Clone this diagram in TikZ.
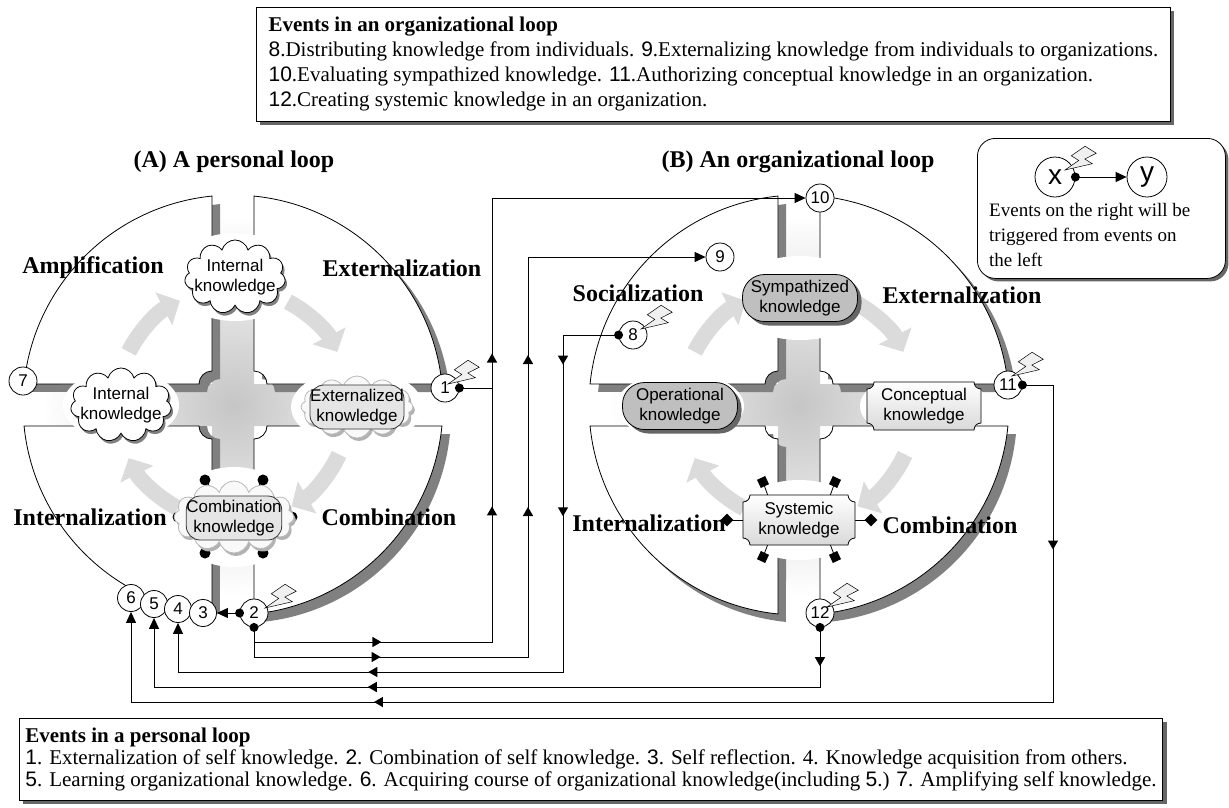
\documentclass[tikz,border=0pt]{standalone}
\usepackage{fontspec}
\setmainfont{Liberation Serif}
\newfontfamily\arial{Liberation Sans}
\usetikzlibrary{arrows.meta,calc,shapes.symbols,shapes.misc,shapes.geometric,shadows}

\newcommand{\dg}[1]{{\arial #1}}
% plaque with concave corners: centre, half width, half height
\newcommand{\plaque}[3]{%
  \draw[plaquefill] ($(#1)+(-#2+7,-#3)$) -- ($(#1)+(#2-7,-#3)$)
    arc[start angle=180, end angle=90, radius=7] -- ($(#1)+(#2,#3-7)$)
    arc[start angle=270, end angle=180, radius=7] -- ($(#1)+(-#2+7,#3)$)
    arc[start angle=0, end angle=-90, radius=7] -- ($(#1)+(-#2,-#3+7)$)
    arc[start angle=90, end angle=0, radius=7] -- cycle;}

\tikzset{
  quadrant/.pic={
    \path[pic actions] (-21,-34) -- (-21,-208.95)
      arc[start angle=264.26, end angle=185.74, radius=210]
      -- (-34,-21) arc[start angle=180, end angle=270, radius=13] -- cycle;
  },
  bolt/.pic={
    \filldraw[fill=gray!12, draw=black, line width=0.5pt, rotate=-32, scale=2.2]
      (0,0) -- (3,-7) -- (-1,-7) -- (2,-14) -- (8,-14) -- (5,-9) -- (9,-9) -- cycle;
  },
  arcline/.style={draw=black, line width=0.8pt, fill=white},
  plaquefill/.style={draw=black, line width=0.8pt, top color=white, bottom color=gray!30},
  ev/.style={circle, draw, fill=white, line width=0.8pt, minimum size=28pt, inner sep=0pt,
    font=\arial\fontsize{17}{17}\selectfont},
  evs/.style={ev, minimum size=27pt},
  dot/.style={circle, fill=black, inner sep=0pt, minimum size=9pt},
  wire/.style={line width=1pt},
  arr/.style={wire, -{Triangle[length=11pt, width=10pt]}},
  mtip/.style={isosceles triangle, isosceles triangle apex angle=60, fill=black,
    inner sep=0pt, minimum size=9pt, sloped, allow upside down},
  phase/.style={font=\bfseries\fontsize{24}{26}\selectfont},
  ktext/.style={align=center, font=\arial\fontsize{17}{20}\selectfont},
  kcloud/.style={ktext, cloud, cloud puffs=11, cloud ignores aspect, draw, fill=white,
    line width=0.8pt, inner xsep=-8pt, inner ysep=2pt,
    drop shadow={shadow xshift=2pt, shadow yshift=-3pt, fill=gray, opacity=1}},
  gcloud/.style={cloud, cloud puffs=12, cloud ignores aspect, draw=gray!55, fill=gray!5,
    line width=0.8pt, minimum width=112pt, minimum height=62pt,
    drop shadow={shadow xshift=2pt, shadow yshift=-3pt, fill=gray!60, opacity=1}},
  kpill/.style={ktext, rectangle, rounded corners=14pt, draw=black!80, fill=gray!20,
    line width=0.8pt, minimum width=94pt, minimum height=44pt, inner sep=0pt},
  spill/.style={ktext, rectangle, rounded corners=22pt, draw, fill=gray!50,
    line width=0.8pt, minimum width=115pt, minimum height=47pt, inner sep=0pt,
    drop shadow={shadow xshift=4pt, shadow yshift=-4pt, fill=gray!80!black, opacity=1}},
  turn/.style={line width=16pt, draw=gray!28, -{Triangle[length=18pt, width=36pt]}},
  infobox/.style={draw, fill=white, line width=0.8pt, align=left, inner sep=6pt,
    drop shadow={shadow xshift=4pt, shadow yshift=-4pt, fill=gray!80!black, opacity=1}},
  legendbox/.style={draw, fill=white, line width=0.8pt, rounded corners=18pt,
    drop shadow={shadow xshift=3pt, shadow yshift=-3pt, fill=gray!80!black, opacity=1}},
}

\begin{document}
\begin{tikzpicture}[x=1pt, y=-1pt]
\useasboundingbox (0,0) rectangle (1229,807);

% the two loops
\coordinate (cA) at (233,405);
\coordinate (cB) at (799,405);

\foreach \c in {cA,cB} {
  \begin{scope}
    \clip (\c) ++(-21,-210) rectangle ++(42,420) (\c) ++(-210,-21) rectangle ++(420,42);
    \shade[inner color=gray!45, outer color=white] (\c) circle (190);
  \end{scope}
}
\foreach \r/\sx/\sy in {0/8/8, 90/8/0, 180/8/8, 270/8/8}
  \pic[fill=gray, shift={(\sx,\sy)}, rotate=\r] at (cA) {quadrant};
\foreach \r in {0,90,180,270}
  \pic[fill=gray, shift={(8,8)}, rotate=\r] at (cB) {quadrant};
\foreach \c in {cA,cB}
  \foreach \r in {0,90,180,270}
    \pic[arcline, rotate=\r] at (\c) {quadrant};

% halo round the knowledge
\fill[white] (235,277) ellipse [x radius=64, y radius=44];
\fill[white] (121,405) ellipse [x radius=58, y radius=36];
\fill[white] (357,407) ellipse [x radius=66, y radius=38];
\fill[white] (234,517) ellipse [x radius=64, y radius=50];
\fill[white] (800,298) ellipse [x radius=70, y radius=42];
\fill[white] (680,406) ellipse [x radius=64, y radius=34];
\fill[white] (924,406) ellipse [x radius=64, y radius=34];
\fill[white] (799,520) ellipse [x radius=64, y radius=40];

% turning arrows
\foreach \c in {cA,cB}
  \foreach \s/\e in {207/243, 298/333, 25/60, 118/153}
    \draw[turn] ([shift={(\c)}]\s:117) arc[start angle=\s, end angle=\e, radius=117];

% titles and phases
\node[phase] (ttlA) at (234,162) {(A) A personal loop};
\node[phase] (ttlB) at (798,162) {(B) An organizational loop};
\node[phase] (ampA) at (93,268) {Amplification};
\node[phase] (extA) at (402,268) {Externalization};
\node[phase] (intA) at (90,517) {Internalization};
\node[phase] (comA) at (389,517) {Combination};
\node[phase] (socB) at (638,293) {Socialization};
\node[phase] (extB) at (962,295) {Externalization};
\node[phase] (intB) at (649,523) {Internalization};
\node[phase] (comB) at (950,525) {Combination};

% knowledge of loop A
\coordinate (cmkC) at (234,517);
\foreach \a/\b/\c/\d in {-29/-37/-18/-22, 29/-37/18/-22, -56/0/-40/0, 58/0/40/0, -29/36/-18/22, 29/36/18/22}
  \draw[line width=0.8pt] ($(cmkC)+(\c,\d)$) -- ($(cmkC)+(\a,\b)$) node[dot, minimum size=11pt] {};
\node[kcloud] (ikTop) at (235,277) {Internal\\knowledge};
\node[kcloud] (ikLeft) at (121,405) {Internal\\knowledge};
\node[gcloud] (exCloud) at (357,407) {};
\node[kpill] (exk) at (357,407) {Externalized\\knowledge};
\node[gcloud, minimum width=120pt, minimum height=72pt] (cmCloud) at (cmkC) {};
\node[kpill] (cmk) at (234,518) {Combination\\knowledge};

% knowledge of loop B
\coordinate (cpkC) at (924,406);
\coordinate (sykC) at (799,520);
\foreach \a/\b/\c/\d/\t in {-36/-38/-31/-24/25, 36/-38/31/-24/-25, -36/37/-31/24/-25, 36/37/31/24/25}
  \draw[line width=0.8pt] ($(sykC)+(\c,\d)$) -- ($(sykC)+(\a,\b)$)
    node[rectangle, fill=black, inner sep=0pt, minimum size=9pt, rotate=\t] {};
\foreach \a/\c in {-72/-55, 72/55}
  \draw[line width=0.8pt] ($(sykC)+(\c,0)$) -- ($(sykC)+(\a,0)$)
    node[diamond, fill=black, inner sep=0pt, minimum size=13pt] {};
\node[spill] (sym) at (800,298) {Sympathized\\knowledge};
\node[spill] (opk) at (680,406) {Operational\\knowledge};
\plaque{cpkC}{57}{24}
\node[ktext] (cpk) at (cpkC) {Conceptual\\knowledge};
\plaque{sykC}{56}{25}
\node[ktext] (syk) at (sykC) {Systemic\\knowledge};

% events
\node[ev] (e7) at (23,381) {7};
\node[ev] (e1) at (445,388) {1};
\node[evs] (e6) at (131,598) {6};
\node[evs] (e5) at (154,604) {5};
\node[evs] (e4) at (178,609) {4};
\node[evs] (e3) at (203,613) {3};
\node[ev] (e2) at (254,613) {2};
\node[ev] (e8) at (633,335) {8};
\node[ev] (e9) at (720,257) {9};
\node[ev] (e10) at (820,198) {10};
\node[ev] (e11) at (1008,385) {11};
\node[ev] (e12) at (820,613) {12};

% triggers
\coordinate (la) at (492,0);
\coordinate (lb) at (528,0);
\coordinate (lc) at (563,0);
\coordinate (ld) at (1053,0);
\coordinate (ra) at (0,642);
\coordinate (rb) at (0,657);
\coordinate (rc) at (0,672);
\coordinate (rd) at (0,687);
\coordinate (re) at (0,702);

\draw[arr] (e1.east) -- (e1.east -| la) -- node[mtip, pos=.15] {} (la |- e10) -- (e10.west);
\draw[wire] (e2.south) -- (e2.south |- ra) -- node[mtip, pos=.51] {} (la |- ra)
  -- node[mtip, pos=.51] {} (e1.east -| la);
\draw[arr] (e2.south) -- (e2.south |- rb) -- node[mtip, pos=.44] {} (lb |- rb)
  -- node[mtip, pos=.36] {} node[mtip, pos=.74] {} (lb |- e9) -- (e9.west);
\draw[arr] (e8.west) -- (e8.west -| lc) -- node[mtip, pos=.07] {} node[mtip, pos=.52] {} (lc |- rc)
  -- node[mtip, pos=.49] {} (e4 |- rc) -- (e4.south);
\draw[arr] (e12.south) -- node[mtip, pos=.55] {} (e12.south |- rd)
  -- node[mtip, pos=.67] {} (e5 |- rd) -- (e5.south);
\draw[arr] (e11.east) -- (e11.east -| ld) -- node[mtip, pos=.5] {} (ld |- re)
  -- node[mtip, pos=.73] {} (e6 |- re) -- (e6.south);
\draw[arr] (e2.west) -- (e3.east);
\foreach \d in {e1.east, e2.west, e2.south, e8.west, e11.east, e12.south}
  \node[dot] at (\d) {};

\pic at ([shift={(3,-4)}]e1.center) {bolt};
\pic at ([shift={(11,-5)}]e2.center) {bolt};
\pic at ([shift={(8,-6)}]e8.center) {bolt};
\pic at ([shift={(4,-9)}]e11.center) {bolt};
\pic at ([shift={(7,-6)}]e12.center) {bolt};

% legend
\node[legendbox, minimum width=248pt, minimum height=140pt, anchor=north west] (legend) at (977,138) {};
\node[ev, minimum size=40pt, font=\arial\fontsize{28}{28}\selectfont] (lx) at (1055,177) {x};
\node[ev, minimum size=40pt, font=\arial\fontsize{28}{28}\selectfont] (ly) at (1147,177) {y};
\draw[arr] (lx.east) -- (ly.west);
\node[dot] at (lx.east) {};
\pic at ([shift={(10,-7)}]lx.center) {bolt};
\node[anchor=north west, align=left, inner sep=0pt, font=\fontsize{19}{25}\selectfont] (legtxt) at (989,203)
  {Events on the right will be\\triggered from events on\\the left};

% event lists
\node[infobox, minimum width=914pt, minimum height=114pt, anchor=north west,
      font=\fontsize{21}{25}\selectfont] (orgbox) at (256,7) {%
  \textbf{Events in an organizational loop}\\
  \dg{8}.Distributing knowledge from individuals. \dg{9}.Externalizing knowledge from individuals to organizations.\\
  \dg{10}.Evaluating sympathized knowledge. \dg{11}.Authorizing conceptual knowledge in an organization.\\
  \dg{12}.Creating systemic knowledge in an organization.};
\node[infobox, minimum width=1141pt, minimum height=82pt, anchor=north west,
      font=\fontsize{21}{22}\selectfont] (perbox) at (19,718) {%
  \textbf{Events in a personal loop}\\
  \dg{1}. Externalization of self knowledge. \dg{2}. Combination of self knowledge. \dg{3}. Self reflection. 4. Knowledge acquisition from others.\\
  \dg{5}. Learning organizational knowledge. \dg{6}. Acquiring course of organizational knowledge(including \dg{5}.) \dg{7}. Amplifying self knowledge.};
\end{tikzpicture}
\end{document}
